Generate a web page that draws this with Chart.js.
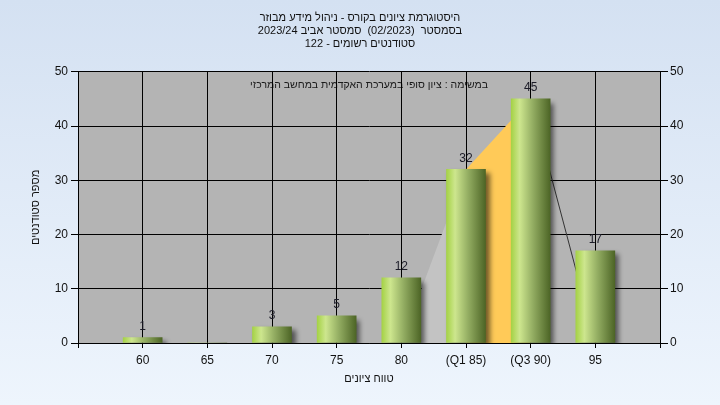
<!DOCTYPE html>
<html lang="he">
<head>
<meta charset="utf-8">
<script src="https://cdn.jsdelivr.net/npm/chart.js@4.4.1/dist/chart.umd.min.js"></script>
<style>
  html, body { margin: 0; padding: 0; }
</style>
</head>
<body>
<canvas id="chart" width="720" height="405"></canvas>
<script>
// wrap hebrew strings in an RTL embedding so canvas lays them out right to left
const rtl = s => '\u202B' + s + '\u202C';

const titleLines = [
  'היסטוגרמת ציונים בקורס - ניהול מידע מבוזר',
  'בסמסטר  (02/2023)  סמסטר אביב 2023/24',
  'סטודנטים רשומים - 122'
];
const subTitle = 'במשימה : ציון סופי במערכת האקדמית במחשב המרכזי';
const xTitle = 'טווח ציונים';
const yTitle = 'מספר סטודנטים';

// empty slots at both ends keep half a column free on each side
const categories = ['', '60', '65', '70', '75', '80', '(Q1 85)', '(Q3 90)', '95', ''];
const students   = [null, 1, 0, 3, 5, 12, 32, 45, 17, null];
// distribution outline drawn behind the bars
const riseArea     = [null, null, null, null, null, 0, 32, null, null, null];
const quartileArea = [null, null, null, null, null, null, 32, 45, null, null];
const fallLine     = [null, null, null, null, null, null, null, 45, 0, null];

const FONT = 'Liberation Sans, Arial, DejaVu Sans, sans-serif';
const BAR_W = 39;

// background, plot area and the caption inside the plot
const backdrop = {
  id: 'backdrop',
  beforeDraw (chart) {
    const { ctx, width, height, chartArea: a } = chart;
    ctx.save();
    const g = ctx.createLinearGradient(0, 0, 0, height);
    g.addColorStop(0, '#d4e1f2');
    g.addColorStop(1, '#eef5fd');
    ctx.fillStyle = g;
    ctx.fillRect(0, 0, width, height);
    ctx.fillStyle = '#b4b4b4';
    ctx.fillRect(a.left, a.top, a.right - a.left, a.bottom - a.top);
    ctx.fillStyle = '#1a1a1a';
    ctx.font = '10.5px ' + FONT;
    ctx.textAlign = 'center';
    ctx.textBaseline = 'middle';
    ctx.fillText(rtl(subTitle), (a.left + a.right) / 2, a.top + 13);
    ctx.restore();
  }
};

// drop shadow on the bars only
const barShadow = {
  id: 'barShadow',
  beforeDatasetDraw (chart, args) {
    if (args.index !== 0) return;
    const ctx = chart.ctx;
    ctx.save();
    ctx.shadowColor = 'rgba(0,0,0,0.55)';
    ctx.shadowBlur = 5;
    ctx.shadowOffsetX = 4;
    ctx.shadowOffsetY = 4;
  },
  afterDatasetDraw (chart, args) {
    if (args.index === 0) chart.ctx.restore();
  }
};

// counts above the bars
const valueLabels = {
  id: 'valueLabels',
  afterDatasetsDraw (chart) {
    const { ctx } = chart;
    const meta = chart.getDatasetMeta(0);
    ctx.save();
    ctx.font = '12px ' + FONT;
    ctx.fillStyle = '#1c1c28';
    ctx.textAlign = 'center';
    ctx.textBaseline = 'bottom';
    meta.data.forEach((bar, i) => {
      const v = students[i];
      if (!v) return;
      ctx.fillText(String(v), bar.x, bar.y - 5);
    });
    ctx.restore();
  }
};

function barFill (context) {
  const chart = context.chart;
  const x = chart.scales.x;
  if (!x || context.type !== 'data') return '#9dc83a';
  const cx = x.getPixelForValue(context.dataIndex);
  if (!Number.isFinite(cx)) return '#9dc83a';
  const g = chart.ctx.createLinearGradient(cx - BAR_W / 2, 0, cx + BAR_W / 2, 0);
  g.addColorStop(0, '#a5d246');
  g.addColorStop(0.22, '#cde68e');
  g.addColorStop(0.55, '#94ae63');
  g.addColorStop(1, '#4d6526');
  return g;
}

Chart.defaults.font.family = FONT;
Chart.defaults.font.size = 12;
Chart.defaults.color = '#111';

new Chart(document.getElementById('chart'), {
  type: 'bar',
  data: {
    labels: categories,
    datasets: [
      {
        data: students,
        backgroundColor: barFill,
        borderWidth: 0,
        barThickness: BAR_W,
        order: 0
      },
      {
        type: 'line',
        data: riseArea,
        borderWidth: 0,
        pointRadius: 0,
        fill: 'origin',
        backgroundColor: '#c3c3c3',
        tension: 0,
        order: 3
      },
      {
        type: 'line',
        data: quartileArea,
        borderWidth: 0,
        pointRadius: 0,
        fill: 'origin',
        backgroundColor: '#ffca58',
        tension: 0,
        order: 2
      },
      {
        type: 'line',
        data: fallLine,
        borderColor: '#333',
        borderWidth: 1,
        pointRadius: 0,
        fill: false,
        tension: 0,
        order: 1
      }
    ]
  },
  options: {
    responsive: false,
    animation: false,
    layout: { padding: 0 },
    plugins: {
      legend: { display: false },
      tooltip: { enabled: false },
      title: {
        display: true,
        text: titleLines.map(rtl),
        color: '#111',
        font: { size: 11, weight: 'normal', lineHeight: 1.145 },
        padding: { top: 12, bottom: 22 }
      }
    },
    scales: {
      x: {
        offset: false,
        grid: { offset: false, color: '#000', lineWidth: 1, tickLength: 5, tickColor: '#000' },
        border: { color: '#000' },
        ticks: { autoSkip: false, maxRotation: 0, padding: 5, color: '#111' },
        title: { display: true, text: rtl(xTitle), color: '#111', font: { size: 11 }, padding: { top: 0, bottom: 19 } },
        afterFit: s => { s.height = 62; }
      },
      y: {
        position: 'left',
        min: 0,
        max: 50,
        grid: { color: '#000', lineWidth: 1, tickLength: 7, tickColor: '#000' },
        border: { color: '#000' },
        ticks: { stepSize: 10, padding: 3, color: '#111' },
        title: { display: true, text: rtl(yTitle), color: '#111', font: { size: 11 }, padding: { top: 29, bottom: 0 } },
        afterFit: s => { s.width = 78; }
      },
      y2: {
        position: 'right',
        min: 0,
        max: 50,
        grid: { drawOnChartArea: false, tickLength: 8, tickColor: '#000' },
        border: { color: '#000' },
        ticks: { stepSize: 10, padding: 2, color: '#111' },
        afterFit: s => { s.width = 60; }
      }
    }
  },
  plugins: [backdrop, barShadow, valueLabels]
});
</script>
</body>
</html>
